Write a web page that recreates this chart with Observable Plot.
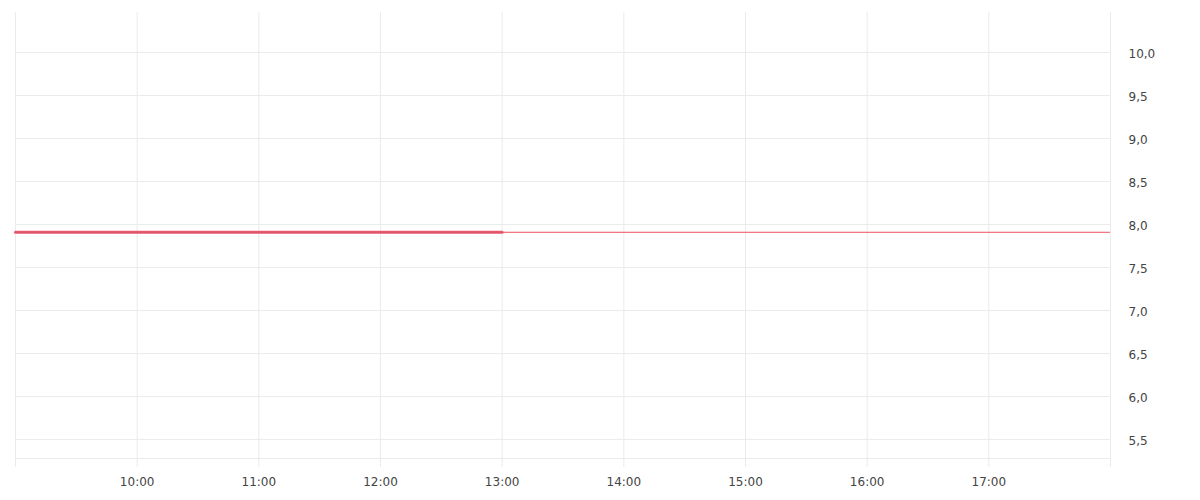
<!DOCTYPE html>
<html>
<head>
<meta charset="utf-8">
<script src="https://cdn.jsdelivr.net/npm/d3@7"></script>
<script src="https://cdn.jsdelivr.net/npm/@observablehq/plot@0.6"></script>
<style>
  html, body { margin: 0; padding: 0; background: #fff; }
  #chart svg { display: block; }
</style>
</head>
<body>
<div id="chart"></div>
<script>
// Data
const times = ["09:00", "13:00"];
const prices = [7.91, 7.91];
const referencePrice = 7.91;
const hourTicks = [9, 10, 11, 12, 13, 14, 15, 16, 17, 18];
const hourLabels = ["", "10:00", "11:00", "12:00", "13:00", "14:00", "15:00", "16:00", "17:00", ""];
const yTicks = [5.5, 6.0, 6.5, 7.0, 7.5, 8.0, 8.5, 9.0, 9.5, 10.0];
const xDomain = [9, 18];
const yDomain = [5.28, 10.465];

const toHour = s => { const [h, m] = s.split(":").map(Number); return h + m / 60; };
const series = times.map((t, i) => ({ x: toHour(t), y: prices[i] }));
const fmtComma = d => d3.format(".1f")(d).replace(".", ",");
const labelOf = h => hourLabels[hourTicks.indexOf(h)] ?? "";

const grid = "#ebebeb";

const chart = Plot.plot({
  width: 1200,
  height: 500,
  marginLeft: 15,
  marginRight: 90,
  marginTop: 12,
  marginBottom: 42,
  style: { fontFamily: "'DejaVu Sans', sans-serif", fontSize: "12px", color: "#444", background: "#fff" },
  x: { type: "linear", domain: xDomain },
  y: { type: "linear", domain: yDomain },
  marks: [
    Plot.gridX(hourTicks, { stroke: grid, strokeOpacity: 1 }),
    Plot.gridY(yTicks, { stroke: grid, strokeOpacity: 1 }),
    Plot.frame({ anchor: "bottom", stroke: grid, strokeOpacity: 1 }),
    Plot.axisX(hourTicks, { tickSize: 9, tickPadding: 10, stroke: grid, fill: "#444", tickFormat: labelOf, label: null }),
    Plot.axisY(yTicks, { anchor: "right", tickSize: 0, tickPadding: 18, textAnchor: "start", dy: 2, fill: "#444", tickFormat: fmtComma, label: null }),
    Plot.ruleY([referencePrice], { stroke: "#f0505a", strokeWidth: 1 }),
    Plot.line(series, { x: "x", y: "y", stroke: "#6b6fd8", strokeWidth: 2 }),
    Plot.line(series, { x: "x", y: "y", stroke: "#f4505a", strokeWidth: 3, strokeOpacity: 0.85 })
  ]
});
document.getElementById("chart").appendChild(chart);
</script>
</body>
</html>
